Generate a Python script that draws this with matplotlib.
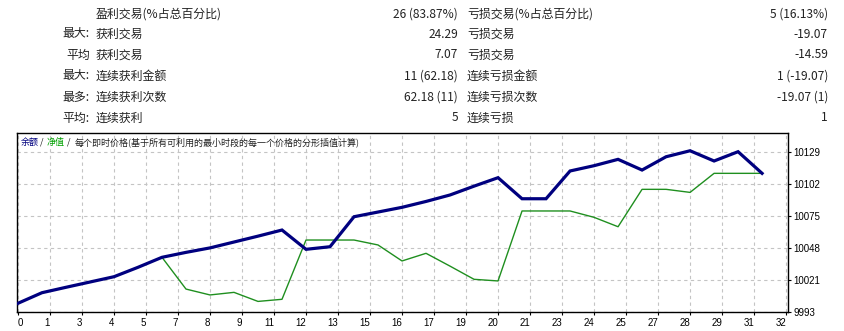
import numpy as np
import matplotlib
matplotlib.use('Agg')
import matplotlib.pyplot as plt

plt.rcParams['font.family'] = ['Noto Sans CJK SC', 'DejaVu Sans']

# stats table
col_a = ['', '最大:', '平均', '最大:', '最多:', '平均:']
col_b = ['盈利交易(%占总百分比)', '获利交易', '获利交易', '连续获利金额', '连续获利次数', '连续获利']
col_c = ['26 (83.87%)', '24.29', '7.07', '11 (62.18)', '62.18 (11)', '5']
col_d = ['亏损交易(%占总百分比)', '亏损交易', '亏损交易', '连续亏损金额', '连续亏损次数', '连续亏损']
col_e = ['5 (16.13%)', '-19.07', '-14.59', '1 (-19.07)', '-19.07 (1)', '1']

# chart data (trade number -> account value)
balance = [10000.4, 10009.4, 10014, 10018.5, 10023, 10031, 10039.5, 10043.7, 10047.5,
           10052.5, 10057.5, 10062.7, 10046.3, 10048.5, 10074, 10078, 10082, 10087,
           10092.5, 10100, 10107.2, 10089.3, 10089.3, 10112.9, 10117.4, 10122.8,
           10113.7, 10125, 10130.1, 10121.4, 10129.3, 10110.9]
equity = [10000.4, 10009.4, 10014, 10018.5, 10023, 10031, 10039.5, 10012.5, 10007.5,
          10009.7, 10002, 10003.8, 10054.2, 10054.2, 10054.2, 10050, 10036.4, 10042.9,
          10032, 10020.8, 10019.4, 10078.9, 10078.9, 10078.9, 10073.5, 10065.5,
          10097.3, 10097.3, 10094.7, 10110.9, 10110.9, 10110.9]
x_labels = ['0', '1', '3', '4', '5', '7', '8', '9', '11', '12', '13', '15', '16',
            '17', '19', '20', '21', '23', '24', '25', '27', '28', '29', '31', '32']
y_labels = ['9993', '10021', '10048', '10075', '10102', '10129']

W, H = 845, 331
fig = plt.figure(figsize=(W / 100, H / 100), dpi=100)
fig.patch.set_facecolor('white')

rows_y = [14, 34, 55, 76, 97, 118]
fs = 8.6
for i, y in enumerate(rows_y):
    fy = 1 - y / H
    fig.text(90 / W, fy, col_a[i], ha='right', va='center', fontsize=fs, color='#222222')
    fig.text(96 / W, fy, col_b[i], ha='left', va='center', fontsize=fs, color='#222222')
    fig.text(458 / W, fy, col_c[i], ha='right', va='center', fontsize=fs, color='#222222')
    fig.text(467 / W, fy, col_d[i], ha='left', va='center', fontsize=fs, color='#222222')
    fig.text(828 / W, fy, col_e[i], ha='right', va='center', fontsize=fs, color='#222222')

left, right, top, bottom = 17, 788, 133, 312
ax = fig.add_axes([left / W, 1 - bottom / H, (right - left) / W, (bottom - top) / H])

x = np.arange(len(balance))
ax.plot(x, equity, color='#1f8f1f', lw=1.0, zorder=3)
ax.plot(x, balance, color='#00007f', lw=2.3, zorder=4, solid_joinstyle='miter')

ax.set_xlim(-0.04, 32.08)
ax.set_ylim(9993, 10145.2)

xt = np.arange(len(x_labels)) * 4 / 3
ax.set_xticks(xt)
ax.set_xticklabels(x_labels)
yt = 9993 + np.arange(len(y_labels)) * 27.2
ax.set_yticks(yt)
ax.set_yticklabels(y_labels)

ax.yaxis.tick_right()
ax.tick_params(axis='both', labelsize=7, length=2, width=0.8, pad=2, colors='black')
for i, lab in enumerate(ax.get_xticklabels()):
    lab.set_family('Liberation Sans')
    lab.set_horizontalalignment('left' if i == 0 else 'right')
for lab in ax.get_yticklabels():
    lab.set_family('Liberation Sans')

ax.grid(True, color='#c4c4c4', linestyle=(0, (3, 3)), lw=0.8)
ax.set_axisbelow(True)
for sp in ax.spines.values():
    sp.set_color('black')
    sp.set_linewidth(1.0)

# chart title with coloured parts
ty = 1 - 142 / H
tfs = 6.5
fig.text(21 / W, ty, '余额', color='#00007f', fontsize=tfs, va='center')
fig.text(40 / W, ty, '/', color='#222222', fontsize=tfs, va='center')
fig.text(47 / W, ty, '净值', color='#00a000', fontsize=tfs, va='center')
fig.text(67 / W, ty, '/', color='#222222', fontsize=tfs, va='center')
fig.text(75 / W, ty, '每个即时价格(基于所有可利用的最小时段的每一个价格的分形插值计算)',
         color='#222222', fontsize=tfs, va='center')

plt.savefig('out.png', dpi=100)
plt.close()
